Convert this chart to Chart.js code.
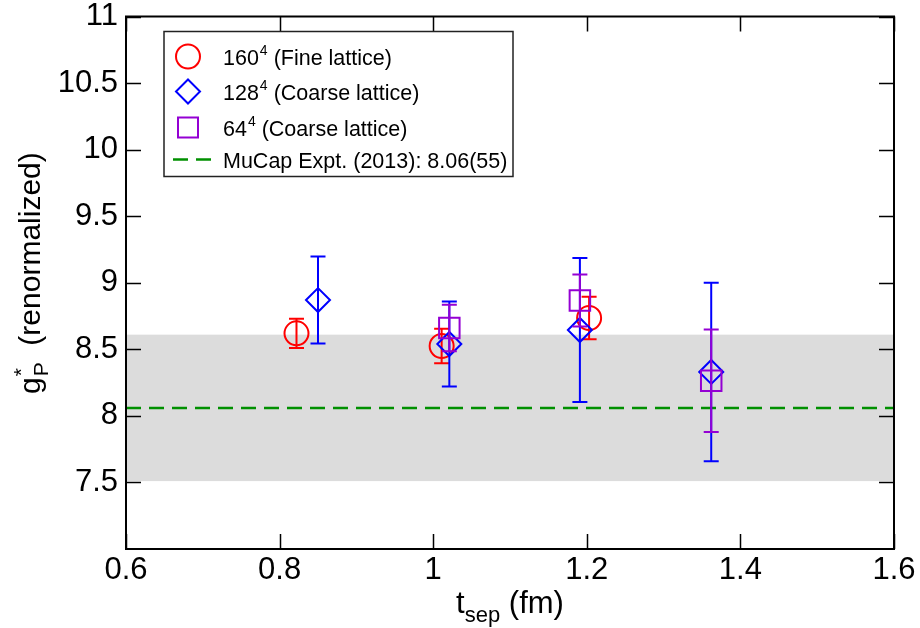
<!DOCTYPE html>
<html><head><meta charset="utf-8">
<script src="https://cdn.jsdelivr.net/npm/chart.js@4.4.0/dist/chart.umd.min.js"></script>
<style>html,body{margin:0;padding:0;background:#fff}</style>
</head><body>
<canvas id="c" width="920" height="628"></canvas>
<script>
// ---- data ----
const X_TICKS = [0.6, 0.8, 1.0, 1.2, 1.4, 1.6];
const Y_TICKS = [7.5, 8, 8.5, 9, 9.5, 10, 10.5, 11];

const FINE_X   = [0.822, 1.011, 1.203];
const FINE_Y   = [8.62, 8.525, 8.735];
const FINE_ERR = [0.11, 0.13, 0.16];

const C128_X   = [0.850, 1.021, 1.191, 1.362];
const C128_Y   = [8.87, 8.54, 8.645, 8.33];
const C128_ERR = [0.327, 0.32, 0.54, 0.67];

const C64_X    = [1.021, 1.191, 1.362];
const C64_Y    = [8.66, 8.867, 8.264];
const C64_ERR  = [0.175, 0.195, 0.385];

const MUCAP_VALUE = 8.06;
const MUCAP_ERR = 0.55;

const LEGEND_LABELS = ["160^4 (Fine lattice)", "128^4 (Coarse lattice)", "64^4 (Coarse lattice)", "MuCap Expt. (2013): 8.06(55)"];

const FONT = "'Liberation Sans', Arial, Helvetica, sans-serif";
const RED = '#ff0000', BLUE = '#0000ff', PURPLE = '#9400d3', GREEN = '#009000', BAND = '#dcdcdc';

function pts(xs, ys) { return xs.map((x, i) => ({x: x, y: ys[i]})); }

// ---- plugins ----
const bandPlugin = {
  id: 'band',
  beforeDatasetsDraw(chart) {
    const {ctx, chartArea: a, scales: {y}} = chart;
    const t = y.getPixelForValue(MUCAP_VALUE + MUCAP_ERR);
    const b = y.getPixelForValue(MUCAP_VALUE - MUCAP_ERR);
    ctx.save();
    ctx.fillStyle = BAND;
    ctx.fillRect(a.left, t, a.right - a.left, b - t);
    ctx.restore();
  }
};

const errPlugin = {
  id: 'errbars',
  beforeDatasetDraw(chart, args) {
    const ds = chart.data.datasets[args.index];
    if (!ds.errs) return;
    const {ctx, scales: {x, y}} = chart;
    ctx.save();
    ctx.strokeStyle = ds.pointBorderColor;
    ctx.lineWidth = 2;
    ds.data.forEach((p, i) => {
      const px = x.getPixelForValue(p.x);
      const pt = y.getPixelForValue(p.y + ds.errs[i]);
      const pb = y.getPixelForValue(p.y - ds.errs[i]);
      const cw = 7.5;
      ctx.beginPath();
      ctx.moveTo(px, pt); ctx.lineTo(px, pb);
      ctx.moveTo(px - cw, pt); ctx.lineTo(px + cw, pt);
      ctx.moveTo(px - cw, pb); ctx.lineTo(px + cw, pb);
      ctx.stroke();
    });
    ctx.restore();
  }
};

function drawRich(ctx, str, x, y, size) {
  const m = str.match(/^([^\^]*)\^(\S)(.*)$/);
  ctx.textBaseline = 'alphabetic';
  ctx.textAlign = 'left';
  if (!m) { ctx.font = size + 'px ' + FONT; ctx.fillText(str, x, y); return; }
  ctx.font = size + 'px ' + FONT;
  ctx.fillText(m[1], x, y);
  let cx = x + ctx.measureText(m[1]).width;
  ctx.font = Math.round(size * 0.66) + 'px ' + FONT;
  ctx.fillText(m[2], cx + 1, y - size * 0.45);
  cx += ctx.measureText(m[2]).width + 1;
  ctx.font = size + 'px ' + FONT;
  ctx.fillText(m[3], cx, y);
}

const framePlugin = {
  id: 'frame',
  afterDatasetsDraw(chart) {
    const {ctx, chartArea: a, scales: {x, y}} = chart;
    ctx.save();
    ctx.strokeStyle = '#000';
    ctx.lineWidth = 1.5;
    const L = 15;
    ctx.beginPath();
    x.ticks.forEach(t => {
      const px = Math.round(x.getPixelForValue(t.value)) + 0.5;
      ctx.moveTo(px, a.bottom); ctx.lineTo(px, a.bottom - L);
      ctx.moveTo(px, a.top); ctx.lineTo(px, a.top + L);
    });
    y.ticks.forEach(t => {
      const py = Math.round(y.getPixelForValue(t.value)) + 0.5;
      ctx.moveTo(a.left, py); ctx.lineTo(a.left + L, py);
      ctx.moveTo(a.right, py); ctx.lineTo(a.right - L, py);
    });
    ctx.stroke();
    ctx.lineWidth = 2;
    ctx.strokeRect(a.left, a.top, a.right - a.left, a.bottom - a.top);
    ctx.restore();
  },
  afterDraw(chart) {
    const {ctx, chartArea: a} = chart;
    ctx.save();
    // legend
    const bx = a.left + 38, by = a.top + 15, bw = 349, bh = 145;
    ctx.fillStyle = '#fff';
    ctx.fillRect(bx, by, bw, bh);
    ctx.strokeStyle = '#222';
    ctx.lineWidth = 1.5;
    ctx.strokeRect(bx, by, bw, bh);
    const rows = [25, 60, 96, 128];
    const mx = bx + 24, tx = bx + 59;
    chart.data.datasets.forEach((ds, i) => {
      const ry = by + rows[i];
      ctx.save();
      ctx.lineWidth = 2;
      ctx.strokeStyle = ds.pointBorderColor || ds.borderColor;
      ctx.beginPath();
      if (ds.pointStyle === 'circle') ctx.arc(mx, ry, 12, 0, Math.PI * 2);
      else if (ds.pointStyle === 'rectRot') { ctx.moveTo(mx, ry - 12); ctx.lineTo(mx + 12, ry); ctx.lineTo(mx, ry + 12); ctx.lineTo(mx - 12, ry); ctx.closePath(); }
      else if (ds.pointStyle === 'rect') { ctx.rect(mx - 10, ry - 10, 20, 20); }
      else { ctx.lineWidth = 2.5; ctx.setLineDash([15, 8]); ctx.moveTo(mx - 15, ry); ctx.lineTo(mx + 23, ry); }
      ctx.stroke();
      ctx.restore();
      ctx.fillStyle = '#000';
      drawRich(ctx, ds.label, tx, ry + 8, 21.5);
    });
    // x title
    ctx.fillStyle = '#000';
    ctx.textBaseline = 'alphabetic';
    ctx.textAlign = 'left';
    const cxm = (a.left + a.right) / 2;
    ctx.font = '31px ' + FONT;
    const wT = ctx.measureText('t').width;
    ctx.font = '22px ' + FONT;
    const wS = ctx.measureText('sep').width;
    ctx.font = '31px ' + FONT;
    const wR = ctx.measureText(' (fm)').width;
    let sx = cxm - (wT + wS + wR) / 2;
    const base = 613;
    ctx.fillText('t', sx, base); sx += wT;
    ctx.font = '22px ' + FONT; ctx.fillText('sep', sx, base + 9); sx += wS;
    ctx.font = '31px ' + FONT; ctx.fillText(' (fm)', sx, base);
    // y title (rotated)
    ctx.save();
    ctx.translate(40, 394);
    ctx.rotate(-Math.PI / 2);
    ctx.font = '30px ' + FONT;
    ctx.fillText('g', 0, 0);
    let gx = ctx.measureText('g').width + 1;
    ctx.font = '21px ' + FONT;
    ctx.fillText('*', gx, -12);
    ctx.fillText('P', gx, 8);
    gx += ctx.measureText('P').width;
    ctx.font = '30px ' + FONT;
    ctx.fillText('  (renormalized)', gx, 0);
    ctx.restore();
    ctx.restore();
  }
};

// ---- chart ----
const tickFont = {family: FONT, size: 31};
new Chart(document.getElementById('c'), {
  type: 'scatter',
  data: {
    datasets: [
      {label: LEGEND_LABELS[0], data: pts(FINE_X, FINE_Y), errs: FINE_ERR, pointStyle: 'circle', pointRadius: 12,
       pointBorderColor: RED, pointBackgroundColor: 'rgba(0,0,0,0)', pointBorderWidth: 2, order: 3},
      {label: LEGEND_LABELS[1], data: pts(C128_X, C128_Y), errs: C128_ERR, pointStyle: 'rectRot', pointRadius: 12,
       pointBorderColor: BLUE, pointBackgroundColor: 'rgba(0,0,0,0)', pointBorderWidth: 2, order: 2},
      {label: LEGEND_LABELS[2], data: pts(C64_X, C64_Y), errs: C64_ERR, pointStyle: 'rect', pointRadius: 14.5,
       pointBorderColor: PURPLE, pointBackgroundColor: 'rgba(0,0,0,0)', pointBorderWidth: 2, order: 1},
      {type: 'line', label: LEGEND_LABELS[3], data: [{x: X_TICKS[0], y: MUCAP_VALUE}, {x: X_TICKS[X_TICKS.length - 1], y: MUCAP_VALUE}],
       borderColor: GREEN, borderDash: [15, 8], borderWidth: 2.5, pointRadius: 0, fill: false, order: 4}
    ]
  },
  options: {
    responsive: false, animation: false, events: [],
    layout: {padding: {left: 0, right: 26, top: 12, bottom: 0}},
    plugins: {legend: {display: false}, tooltip: {enabled: false}},
    scales: {
      x: {
        type: 'linear', min: X_TICKS[0], max: X_TICKS[X_TICKS.length - 1],
        afterBuildTicks: s => { s.ticks = X_TICKS.map(v => ({value: v})); },
        afterFit: s => { s.height = 79; s.paddingLeft = 0; s.paddingRight = 0; },
        grid: {display: false, drawTicks: false}, border: {display: false},
        ticks: {padding: 3, color: '#000', font: tickFont, maxRotation: 0, autoSkip: false, callback: v => String(v)}
      },
      y: {
        type: 'linear', min: 7, max: Y_TICKS[Y_TICKS.length - 1],
        afterBuildTicks: s => { s.ticks = Y_TICKS.map(v => ({value: v})); },
        afterFit: s => { s.width = 126; s.paddingTop = 0; s.paddingBottom = 0; },
        grid: {display: false, drawTicks: false}, border: {display: false},
        ticks: {padding: 8, color: '#000', font: tickFont, autoSkip: false, callback: v => String(v)}
      }
    }
  },
  plugins: [bandPlugin, errPlugin, framePlugin]
});
</script>
</body></html>
